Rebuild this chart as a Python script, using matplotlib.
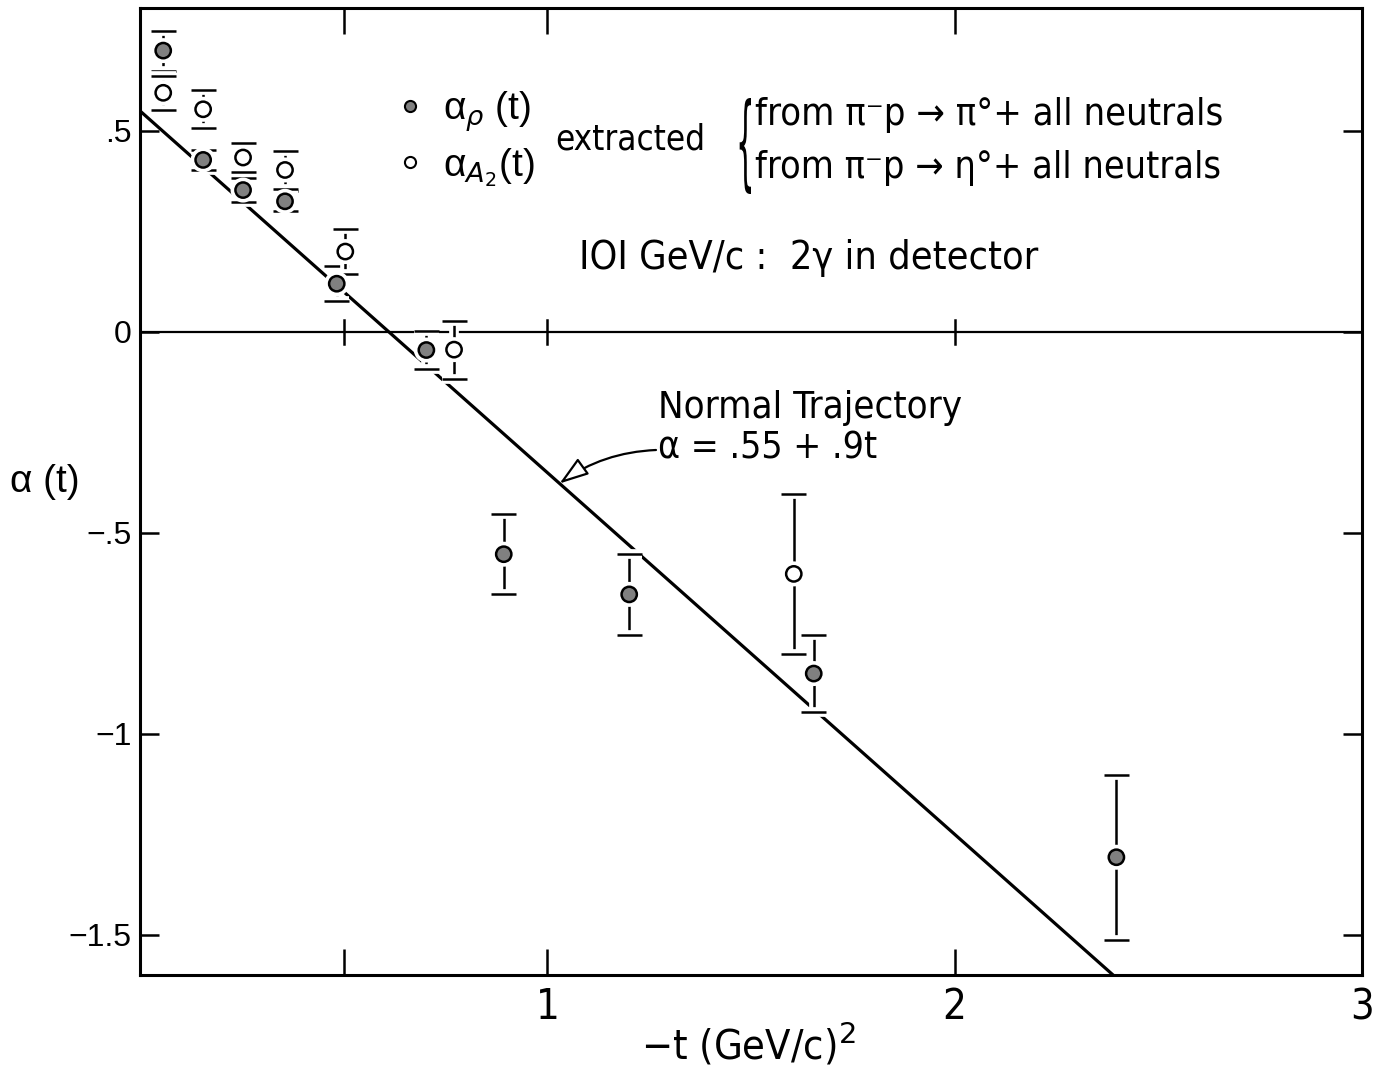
import matplotlib
matplotlib.use("Agg")
import matplotlib.pyplot as plt
import numpy as np
from matplotlib.lines import Line2D
from matplotlib.patches import PathPatch
from matplotlib.textpath import TextPath
from matplotlib.font_manager import FontProperties, fontManager
import matplotlib.patheffects as pe
import matplotlib.transforms as mtransforms

# Extracted effective trajectories vs -t  (GeV/c)^2
t_rho = [0.057, 0.155, 0.253, 0.356, 0.483, 0.703, 0.893, 1.201, 1.654, 2.397]
alpha_rho = [0.700, 0.428, 0.353, 0.325, 0.120, -0.045, -0.553, -0.653, -0.850, -1.307]
err_rho = [0.050, 0.025, 0.030, 0.025, 0.044, 0.048, 0.100, 0.100, 0.096, 0.205]

t_a2 = [0.057, 0.155, 0.253, 0.356, 0.504, 0.771, 1.605]
alpha_a2 = [0.595, 0.554, 0.434, 0.403, 0.200, -0.044, -0.602]
err_a2 = [0.043, 0.047, 0.035, 0.048, 0.057, 0.072, 0.200]

# Normal trajectory  alpha = .55 + .9 t   (t < 0)
traj_intercept = 0.55
traj_slope = 0.9

x_ticks = [0.5, 1, 2, 3]
x_tick_labels = ["", "1", "2", "3"]
y_ticks = [0.5, 0, -0.5, -1, -1.5]
y_tick_labels = [".5", "0", "\u2212.5", "\u22121", "\u22121.5"]

W, H = 1390, 1068

# pick a condensed sans face if one is installed
names = {(f.name, f.stretch) for f in fontManager.ttflist}
fnames = [f.fname.lower() for f in fontManager.ttflist]
NARROW = dict(family=["DejaVu Sans"], stretch="normal")
if any("dejavusanscondensed" in fn.replace("-", "") for fn in fnames):
    NARROW = dict(family=["DejaVu Sans"], stretch="condensed")
else:
    for cand in ["Liberation Sans Narrow", "Roboto Condensed", "Open Sans Condensed", "Roboto"]:
        if any(n == cand for n, _ in names):
            NARROW = dict(family=[cand, "DejaVu Sans"], stretch="normal")
            break
SANS = ["Liberation Sans", "DejaVu Sans"]


def fx(px):
    return px / W


def fy(py):
    return 1 - py / H


fig = plt.figure(figsize=(W / 100, H / 100), dpi=100)
fig.patch.set_facecolor("white")
ax = fig.add_axes([fx(140), fy(975), (1362 - 140) / W, (975 - 8) / H])
ax.set_xlim(0, 3)
ax.set_ylim(-1.6, 0.806)

for s in ax.spines.values():
    s.set_linewidth(2.2)

ax.set_xticks(x_ticks)
ax.set_xticklabels(x_tick_labels, fontsize=30, family=NARROW["family"], fontstretch=NARROW["stretch"])
ax.set_yticks(y_ticks)
ax.set_yticklabels(y_tick_labels, family=SANS, fontsize=23)
ax.tick_params(axis="x", direction="in", length=19, width=1.8, top=True, bottom=True, pad=8)
ax.tick_params(axis="y", direction="in", length=14, width=1.8, left=True, right=True, pad=6)

# zero line with small crossing ticks
ax.axhline(0, color="black", lw=1.6, zorder=1)
cross = mtransforms.blended_transform_factory(ax.transData, ax.transAxes)
y0 = (0 - (-1.6)) / (0.806 + 1.6)
for xt in x_ticks[:3]:
    ax.plot([xt, xt], [y0 - 0.012, y0 + 0.012], color="black", lw=1.8, transform=cross, zorder=1)

# normal trajectory line
mt = np.linspace(0, 3, 200)
ax.plot(mt, traj_intercept - traj_slope * mt, color="black", lw=2.3, zorder=2)

halo = [pe.withStroke(linewidth=7, foreground="white")]


def draw_points(t, a, e, face):
    line, caps, bars = ax.errorbar(
        t, a, yerr=e, fmt="o", ms=11, mfc=face, mec="black", mew=1.8,
        ecolor="black", elinewidth=1.8, capsize=9, capthick=1.8, zorder=4,
    )
    for c in caps:
        c.set_path_effects(halo)
    for b in bars:
        b.set_path_effects(halo)
    line.set_path_effects(halo)


draw_points(t_rho, alpha_rho, err_rho, "0.5")
draw_points(t_a2, alpha_a2, err_a2, "white")

renderer = fig.canvas.get_renderer()


def fit(txt, width_px):
    w = txt.get_window_extent(renderer).width
    txt.set_fontsize(txt.get_fontsize() * width_px / w)
    return txt


def ntext(px, py, s, size, **kw):
    return fig.text(fx(px), fy(py), s, fontsize=size, family=NARROW["family"],
                    fontstretch=NARROW["stretch"], **kw)


# legend block
handles = [
    Line2D([], [], ls="none", marker="o", ms=8, mfc="0.5", mec="black", mew=1.5),
    Line2D([], [], ls="none", marker="o", ms=8, mfc="white", mec="black", mew=1.5),
]
labels = ["\u03b1$_{\\rho}$ (t)", "\u03b1$_{A_2}$(t)"]
leg = ax.legend(handles, labels, loc="upper left", bbox_to_anchor=(fx(381), fy(70)),
                bbox_transform=fig.transFigure, frameon=False, handlelength=0.5,
                handletextpad=0.6, labelspacing=0.3, borderpad=0,
                prop={"family": SANS, "size": 28})

fit(ntext(555, 140, "extracted", 27, va="center", ha="left"), 150)
fit(ntext(755, 115, "from \u03c0\u207bp \u2192 \u03c0\u00b0+ all neutrals", 27, va="center", ha="left"), 467)
fit(ntext(755, 168, "from \u03c0\u207bp \u2192 \u03b7\u00b0+ all neutrals", 27, va="center", ha="left"), 465)
fit(ntext(809, 258, "IOI GeV/c :  2\u03b3 in detector", 28, va="center", ha="center"), 458)

# curly brace grouping the two reactions, stretched vertically
bp = TextPath((0, 0), "{", size=40, prop=FontProperties(family="DejaVu Sans"))
v = bp.vertices
bx0, bx1, by0, by1 = v[:, 0].min(), v[:, 0].max(), v[:, 1].min(), v[:, 1].max()
brace_box = (736, 751, 98, 194)  # left, right, top, bottom in pixels
sx = (brace_box[1] - brace_box[0]) / (bx1 - bx0)
sy = (brace_box[3] - brace_box[2]) / (by1 - by0)
btr = (mtransforms.Affine2D().translate(-bx0, -by0).scale(sx, sy)
       .translate(brace_box[0], H - brace_box[3]))
fig.patches.append(PathPatch(bp, transform=btr, fc="black", ec="none", figure=fig))

# trajectory annotation
fit(ntext(658, 408, "Normal Trajectory", 26, va="center", ha="left"), 305)
fit(ntext(658, 448, "\u03b1 = .55 + .9t", 26, va="center", ha="left"), 220)
ax.annotate(
    "", xy=(1.03, traj_intercept - traj_slope * 1.03), xycoords="data",
    xytext=(fx(656), fy(450)), textcoords="figure fraction",
    arrowprops=dict(arrowstyle="-|>,head_length=0.9,head_width=0.3", fc="white", ec="black",
                    lw=1.6, mutation_scale=20, connectionstyle="arc3,rad=0.15",
                    shrinkA=0, shrinkB=0),
)

fit(fig.text(fx(10), fy(482), "\u03b1 (t)", family=SANS, fontsize=26, va="center", ha="left"), 70)
fit(ntext(748, 1045, "\u2212t (GeV/c)$^2$", 27, va="center", ha="center"), 215)

fig.savefig("out.png", dpi=100, facecolor="white")
